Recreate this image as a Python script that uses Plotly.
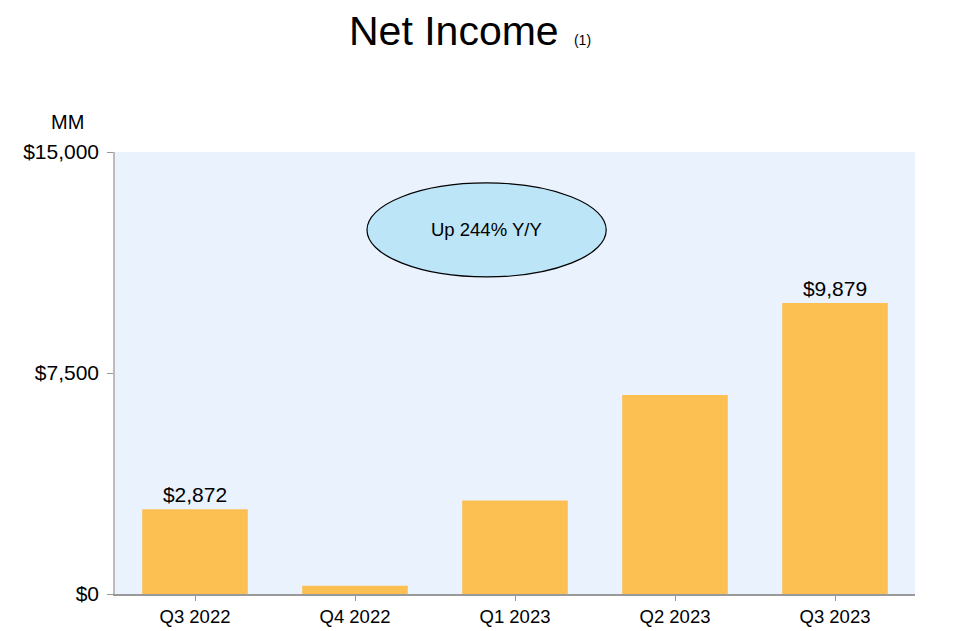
import plotly.graph_objects as go

# quarterly net income, $MM
quarters = ["Q3 2022", "Q4 2022", "Q1 2023", "Q2 2023", "Q3 2023"]
net_income = [2872, 278, 3172, 6750, 9879]
bar_labels = ["$2,872", "", "", "", "$9,879"]
y_ticks = [0, 7500, 15000]
y_tick_text = ["$0", "$7,500", "$15,000"]

fig = go.Figure()

fig.add_trace(go.Bar(
    x=quarters, y=net_income, text=bar_labels,
    textposition="outside", cliponaxis=False,
    textfont=dict(size=21, color="black"),
    marker=dict(color="#FBBF52", line=dict(width=0)),
    width=0.66,
))

# Y/Y callout ellipse
fig.add_shape(type="circle", xref="paper", yref="y",
              x0=0.315, x1=0.614, y0=10760, y1=13950,
              fillcolor="#BDE5F8", line=dict(color="black", width=1.2))
fig.add_annotation(x=0.4645, y=12355, xref="paper", yref="y",
                   text="Up 244% Y/Y", showarrow=False,
                   font=dict(size=18.5, color="black"))

# title and unit (y given in screen px from top, converted below)
fig.add_annotation(x=0.444, y=31, xref="paper", yref="paper",
                   xanchor="center", yanchor="middle",
                   text="Net Income <span style='font-size:14px'> (1)</span>",
                   showarrow=False, font=dict(size=41, color="black"))
fig.add_annotation(x=-0.059, y=122, xref="paper", yref="paper",
                   xanchor="center", yanchor="middle",
                   text="MM", showarrow=False, font=dict(size=20, color="black"))

# page body has an 8px margin, so the figure is a bit smaller than the window
fig.update_layout(
    width=949, height=623,
    margin=dict(l=107, r=42, t=144, b=37),
    plot_bgcolor="#EAF3FD", paper_bgcolor="white",
    font=dict(family="Liberation Sans, Arial", color="black"),
    showlegend=False,
)
for a in fig.layout.annotations:
    if a.yref == "paper":
        a.y = (594 - a.y) / 442

fig.update_xaxes(showline=True, linecolor="#999999", linewidth=1.5,
                 ticks="outside", ticklen=5, tickcolor="#999999",
                 tickfont=dict(size=18.5), showgrid=False, automargin=False)
fig.update_yaxes(range=[0, 15000], tickvals=y_ticks, ticktext=y_tick_text,
                 showline=True, linecolor="#BBBBBB",
                 linewidth=1.5, ticks="outside", ticklen=6,
                 tickcolor="#999999", tickfont=dict(size=21),
                 ticklabelstandoff=4,
                 showgrid=False, zeroline=False, automargin=False)

fig.write_html("out.html")
